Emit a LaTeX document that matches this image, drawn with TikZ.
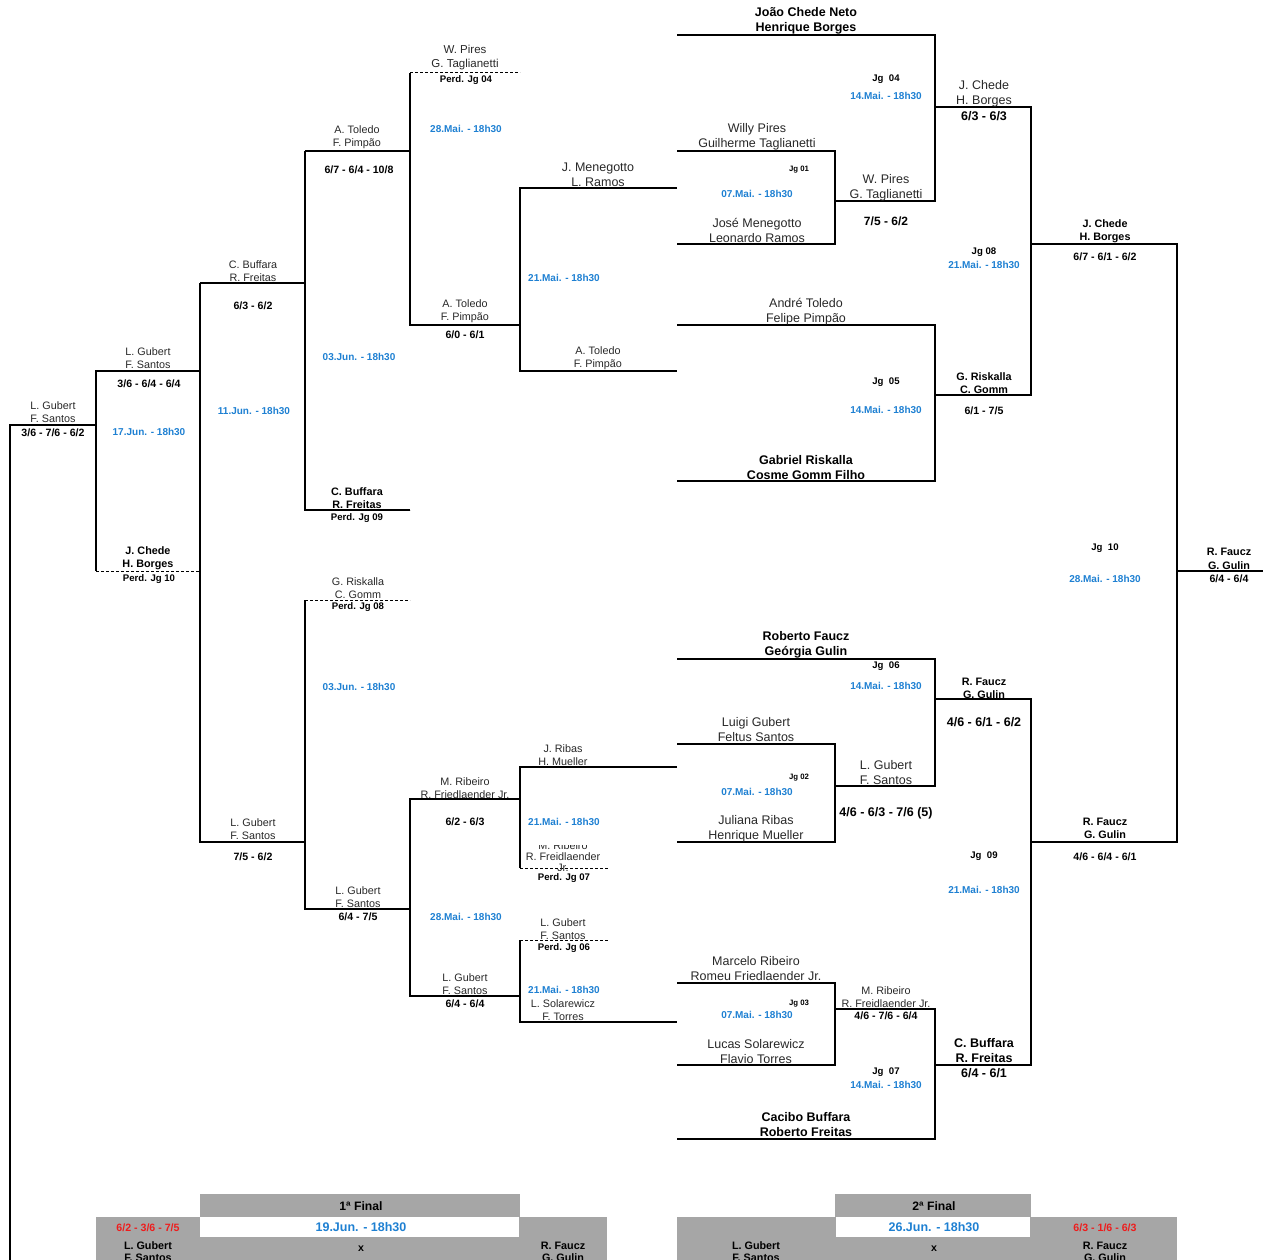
\documentclass[tikz,border=0pt]{standalone}
\usepackage{fontspec}
\setmainfont{Liberation Sans}
\definecolor{dateblue}{RGB}{30,128,210}
\definecolor{scorered}{RGB}{238,28,28}
\definecolor{cellgray}{RGB}{166,166,166}
\definecolor{nametext}{RGB}{40,40,40}
\tikzset{
  slot/.style={line width=1.1pt},
  lost/.style={line width=1pt, dash pattern=on 3pt off 2pt},
  nm/.style={inner sep=0pt, align=center, text=nametext, font=\fontsize{10.8}{13}\selectfont},
  nmb/.style={nm, text=black, font=\fontsize{10.8}{13}\selectfont\bfseries},
  big/.style={inner sep=0pt, align=center, text=nametext, font=\fontsize{12.5}{15}\selectfont},
  bigb/.style={big, text=black, font=\fontsize{12.5}{15.5}\selectfont\bfseries},
  res/.style={inner sep=0pt, font=\fontsize{10.6}{12}\selectfont\bfseries},
  resbig/.style={inner sep=0pt, font=\fontsize{12.5}{14}\selectfont\bfseries},
  when/.style={inner sep=0pt, text=dateblue, font=\fontsize{10}{12}\selectfont\bfseries},
  game/.style={inner sep=0pt, font=\fontsize{9.6}{11}\selectfont\bfseries},
  gamesm/.style={inner sep=0pt, font=\fontsize{7.8}{9}\selectfont\bfseries},
  finalname/.style={nm, text=black, font=\fontsize{10.8}{12}\selectfont\bfseries},
}

\begin{document}
\begin{tikzpicture}[x=1pt, y=-1pt, every node/.append style={yshift=-0.7pt}]
			\useasboundingbox (0,0) rectangle (1263,1260);
			%%%%% WINNERS %%%%%
			\draw[slot] (677,151) -- (835,151) -- (835,244) -- (677,244);
			\draw[slot] (835,201) -- (935,201) -- (935,35) -- (677,35);
			\draw[slot] (935,107) -- (1031,107) -- (1031,395) -- (935,395);
			\draw[slot] (677,325) -- (935,325) -- (935,481) -- (677,481);
			\draw[slot] (1031,244) -- (1177,244) -- (1177,842) -- (1031,842);
			\draw[slot] (1177,571) -- (1263,571);
			\draw[slot] (677,744) -- (835,744) -- (835,842) -- (677,842);
			\draw[slot] (835,786) -- (935,786) -- (935,659) -- (677,659);
			\draw[slot] (935,699) -- (1031,699) -- (1031,1065) -- (935,1065);
			\draw[slot] (677,983) -- (835,983) -- (835,1065) -- (677,1065);
			\draw[slot] (835,1009) -- (935,1009) -- (935,1139) -- (677,1139);
			
			\node[bigb] (jcn) at (806,20) {João Chede Neto\\Henrique Borges};
			\node[big] (wpgt) at (757,136) {Willy Pires\\Guilherme Taglianetti};
			\node[big] (jmlr) at (757,230) {José Menegotto\\Leonardo Ramos};
			\node[big] (atfp) at (806,311) {André Toledo\\Felipe Pimpão};
			\node[bigb] (grcg) at (806,467) {Gabriel Riskalla\\Cosme Gomm Filho};
			\node[bigb] (rfgg) at (806,644) {Roberto Faucz\\Geórgia Gulin};
			\node[big] (lgfs) at (756,729) {Luigi Gubert\\Feltus Santos};
			\node[big] (jrhm) at (756,828) {Juliana Ribas\\Henrique Mueller};
			\node[big] (mrrf) at (756,968) {Marcelo Ribeiro\\Romeu Friedlaender Jr.};
			\node[big] (lsft) at (756,1051) {Lucas Solarewicz\\Flavio Torres};
			\node[bigb] (cbrf) at (806,1124) {Cacibo Buffara\\Roberto Freitas};
			
			\node[gamesm] (jg1) at (799,169) {Jg 01};
			\node[when] (d1) at (757,193) {07.Mai. - 18h30};
			\node[gamesm] (jg2) at (799,777) {Jg 02};
			\node[when] (d2) at (757,791) {07.Mai. - 18h30};
			\node[gamesm] (jg3) at (799,1003) {Jg 03};
			\node[when] (d3) at (757,1014) {07.Mai. - 18h30};
			\node[game] (jg4) at (886,78) {Jg~~04};
			\node[when] (d4) at (886,95) {14.Mai. - 18h30};
			\node[game] (jg5) at (886,381) {Jg~~05};
			\node[when] (d5) at (886,409) {14.Mai. - 18h30};
			\node[game] (jg6) at (886,665) {Jg~~06};
			\node[when] (d6) at (886,685) {14.Mai. - 18h30};
			\node[game] (jg7) at (886,1071) {Jg~~07};
			\node[when] (d7) at (886,1084) {14.Mai. - 18h30};
			\node[game] (jg8) at (984,251) {Jg 08};
			\node[when] (d8) at (984,264) {21.Mai. - 18h30};
			\node[game] (jg9) at (984,855) {Jg~~09};
			\node[when] (d9) at (984,889) {21.Mai. - 18h30};
			\node[game] (jg10) at (1105,547) {Jg~~10};
			\node[when] (d10) at (1105,578) {28.Mai. - 18h30};
			
			\node[big] (w1) at (886,187) {W. Pires\\G. Taglianetti};
			\node[resbig, font=\fontsize{12}{14}\selectfont\bfseries] (s1) at (886,221) {7/5 - 6/2};
			\node[big] (w2) at (886,772) {L. Gubert\\F. Santos};
			\node[resbig] (s2) at (886,813) {4/6 - 6/3 - 7/6 (5)};
			\node[nm] (w3) at (886,996) {M. Ribeiro\\R. Freidlaender Jr.};
			\node[res] (s3) at (886,1015) {4/6 - 7/6 - 6/4};
			\node[big] (w4) at (984,93) {J. Chede\\H. Borges};
			\node[resbig] (s4) at (984,115) {6/3 - 6/3};
			\node[nmb] (w5) at (984,382) {G. Riskalla\\C. Gomm};
			\node[res] (s5) at (984,410) {6/1 - 7/5};
			\node[nmb] (w6) at (984,688) {R. Faucz\\G. Gulin};
			\node[resbig] (s6) at (984,721) {4/6 - 6/1 - 6/2};
			\node[bigb] (w7) at (984,1050) {C. Buffara\\R. Freitas};
			\node[resbig] (s7) at (984,1072) {6/4 - 6/1};
			\node[nmb] (w8) at (1105,231) {J. Chede\\H. Borges};
			\node[res] (s8) at (1105,256) {6/7 - 6/1 - 6/2};
			\node[nmb] (w9) at (1105,828) {R. Faucz\\G. Gulin};
			\node[res] (s9) at (1105,856) {4/6 - 6/4 - 6/1};
			\node[nmb, font=\fontsize{10.8}{14}\selectfont\bfseries] (w10) at (1229,558) {R. Faucz\\G. Gulin};
			\node[res] (s10) at (1229,578) {6/4 - 6/4};
			
			%%%%% LOSERS %%%%%
			\draw[lost] (410,73) -- (520,73);
			\draw[slot] (410,73) -- (410,325) -- (520,325);
			\draw[slot] (305,151) -- (410,151);
			\draw[slot] (677,188) -- (520,188) -- (520,371) -- (677,371);
			\draw[slot] (200,283) -- (305,283);
			\draw[slot] (410,510) -| (305,151);
			\draw[lost] (305,510) -- (410,510);
			\draw[slot] (305,842) -- (200,842) -- (200,283);
			\draw[slot] (410,909) -- (305,909) -- (305,600);
			\draw[lost] (305,600) -- (410,600);
			\draw[slot] (520,799) -- (410,799) -- (410,996) -- (520,996);
			\draw[slot] (677,767) -- (520,767) -- (520,868);
			\draw[lost] (520,868) -- (608,868);
			\draw[lost] (520,940) -- (608,940);
			\draw[slot] (520,940) -- (520,1022) -- (677,1022);
			\draw[slot] (200,371) -- (96,371) -- (96,571);
			\draw[lost] (96,571) -- (200,571);
			\draw[slot] (96,425) -- (10,425) -- (10,1260);
			
			\node[nm, font=\fontsize{11.5}{14}\selectfont] (l1) at (465,57) {W. Pires\\G. Taglianetti};
			\node[game] (p4) at (466,79) {Perd. Jg 04};
			\node[when] (e1) at (466,128) {28.Mai. - 18h30};
			\node[nm] (l2) at (465,311) {A. Toledo\\F. Pimpão};
			\node[res] (t2) at (465,334) {6/0 - 6/1};
			\node[big] (l3) at (598,174) {J. Menegotto\\L. Ramos};
			\node[nm] (l4) at (598,358) {A. Toledo\\F. Pimpão};
			\node[when] (e2) at (564,277) {21.Mai. - 18h30};
			\node[nm] (l5) at (357,137) {A. Toledo\\F. Pimpão};
			\node[res] (t5) at (359,169) {6/7 - 6/4 - 10/8};
			\node[nmb] (l6) at (357,497) {C. Buffara\\R. Freitas};
			\node[game] (p9) at (357,517) {Perd. Jg 09};
			\node[when] (e3) at (359,356) {03.Jun. - 18h30};
			\node[nm] (l7) at (253,270) {C. Buffara\\R. Freitas};
			\node[res] (t7) at (253,305) {6/3 - 6/2};
			\node[when] (e4) at (254,410) {11.Jun. - 18h30};
			\node[nm] (l8) at (358,587) {G. Riskalla\\C. Gomm};
			\node[game] (p8) at (358,606) {Perd. Jg 08};
			\node[when] (e5) at (359,686) {03.Jun. - 18h30};
			\node[nm] (l9) at (358,896) {L. Gubert\\F. Santos};
			\node[res] (t9) at (358,916) {6/4 - 7/5};
			\node[nm] (l10) at (465,787) {M. Ribeiro\\R. Friedlaender Jr.};
			\node[res] (t10) at (465,821) {6/2 - 6/3};
			\node[when] (e6) at (466,916) {28.Mai. - 18h30};
			\node[nm] (l11) at (465,983) {L. Gubert\\F. Santos};
			\node[res] (t11) at (465,1003) {6/4 - 6/4};
			\node[nm] (l12) at (563,754) {J. Ribas\\H. Mueller};
			\node[when] (e7) at (564,821) {21.Mai. - 18h30};
			\begin{scope}
				\clip (505,845) rectangle (625,870);
				\node[nm, font=\fontsize{10.8}{11}\selectfont] (l13) at (563,856) {M. Ribeiro\\R. Freidlaender\\Jr.};
			\end{scope}
			\node[game] (p7) at (564,877) {Perd. Jg 07};
			\node[nm] (l14) at (563,928) {L. Gubert\\F. Santos};
			\node[game] (p6) at (564,947) {Perd. Jg 06};
			\node[when] (e8) at (564,989) {21.Mai. - 18h30};
			\node[nm] (l15) at (563,1009) {L. Solarewicz\\F. Torres};
			\node[nm] (l16) at (253,828) {L. Gubert\\F. Santos};
			\node[res] (t16) at (253,856) {7/5 - 6/2};
			\node[nm] (l17) at (148,357) {L. Gubert\\F. Santos};
			\node[res] (t17) at (149,383) {3/6 - 6/4 - 6/4};
			\node[when] (e9) at (149,431) {17.Jun. - 18h30};
			\node[nmb] (l18) at (148,558) {J. Chede\\H. Borges};
			\node[game] (p10) at (149,578) {Perd. Jg 10};
			\node[nm] (l19) at (53,411) {L. Gubert\\F. Santos};
			\node[res] (t19) at (53,432) {3/6 - 7/6 - 6/2};
			
			%%%%% FINALS %%%%%
			\fill[cellgray] (96,1217) rectangle (607,1260);
			\fill[cellgray] (200,1194) rectangle (520,1217);
			\fill[white] (200,1217) rectangle (519,1237);
			\node[res, font=\fontsize{12.2}{14}\selectfont\bfseries] (f1) at (361,1205) {1ª Final};
			\node[when, font=\fontsize{12.5}{14}\selectfont\bfseries] (fd1) at (361,1226) {19.Jun. - 18h30};
			\node[res, text=scorered] (fs1) at (148,1227) {6/2 - 3/6 - 7/5};
			\node[finalname] (fa1) at (148,1251) {L. Gubert\\F. Santos};
			\node[res] (fx1) at (361,1248) {x};
			\node[finalname] (fb1) at (563,1251) {R. Faucz\\G. Gulin};
			
			\fill[cellgray] (677,1217) rectangle (1177,1260);
			\fill[cellgray] (835,1194) rectangle (1031,1217);
			\fill[white] (836,1217) rectangle (1030,1237);
			\node[res, font=\fontsize{12.2}{14}\selectfont\bfseries] (f2) at (934,1205) {2ª Final};
			\node[when, font=\fontsize{12.5}{14}\selectfont\bfseries] (fd2) at (934,1226) {26.Jun. - 18h30};
			\node[res, text=scorered] (fs2) at (1105,1227) {6/3 - 1/6 - 6/3};
			\node[finalname] (fa2) at (756,1251) {L. Gubert\\F. Santos};
			\node[res] (fx2) at (934,1248) {x};
			\node[finalname] (fb2) at (1105,1251) {R. Faucz\\G. Gulin};
			%%%%% END %%%%%
\end{tikzpicture}
\end{document}
